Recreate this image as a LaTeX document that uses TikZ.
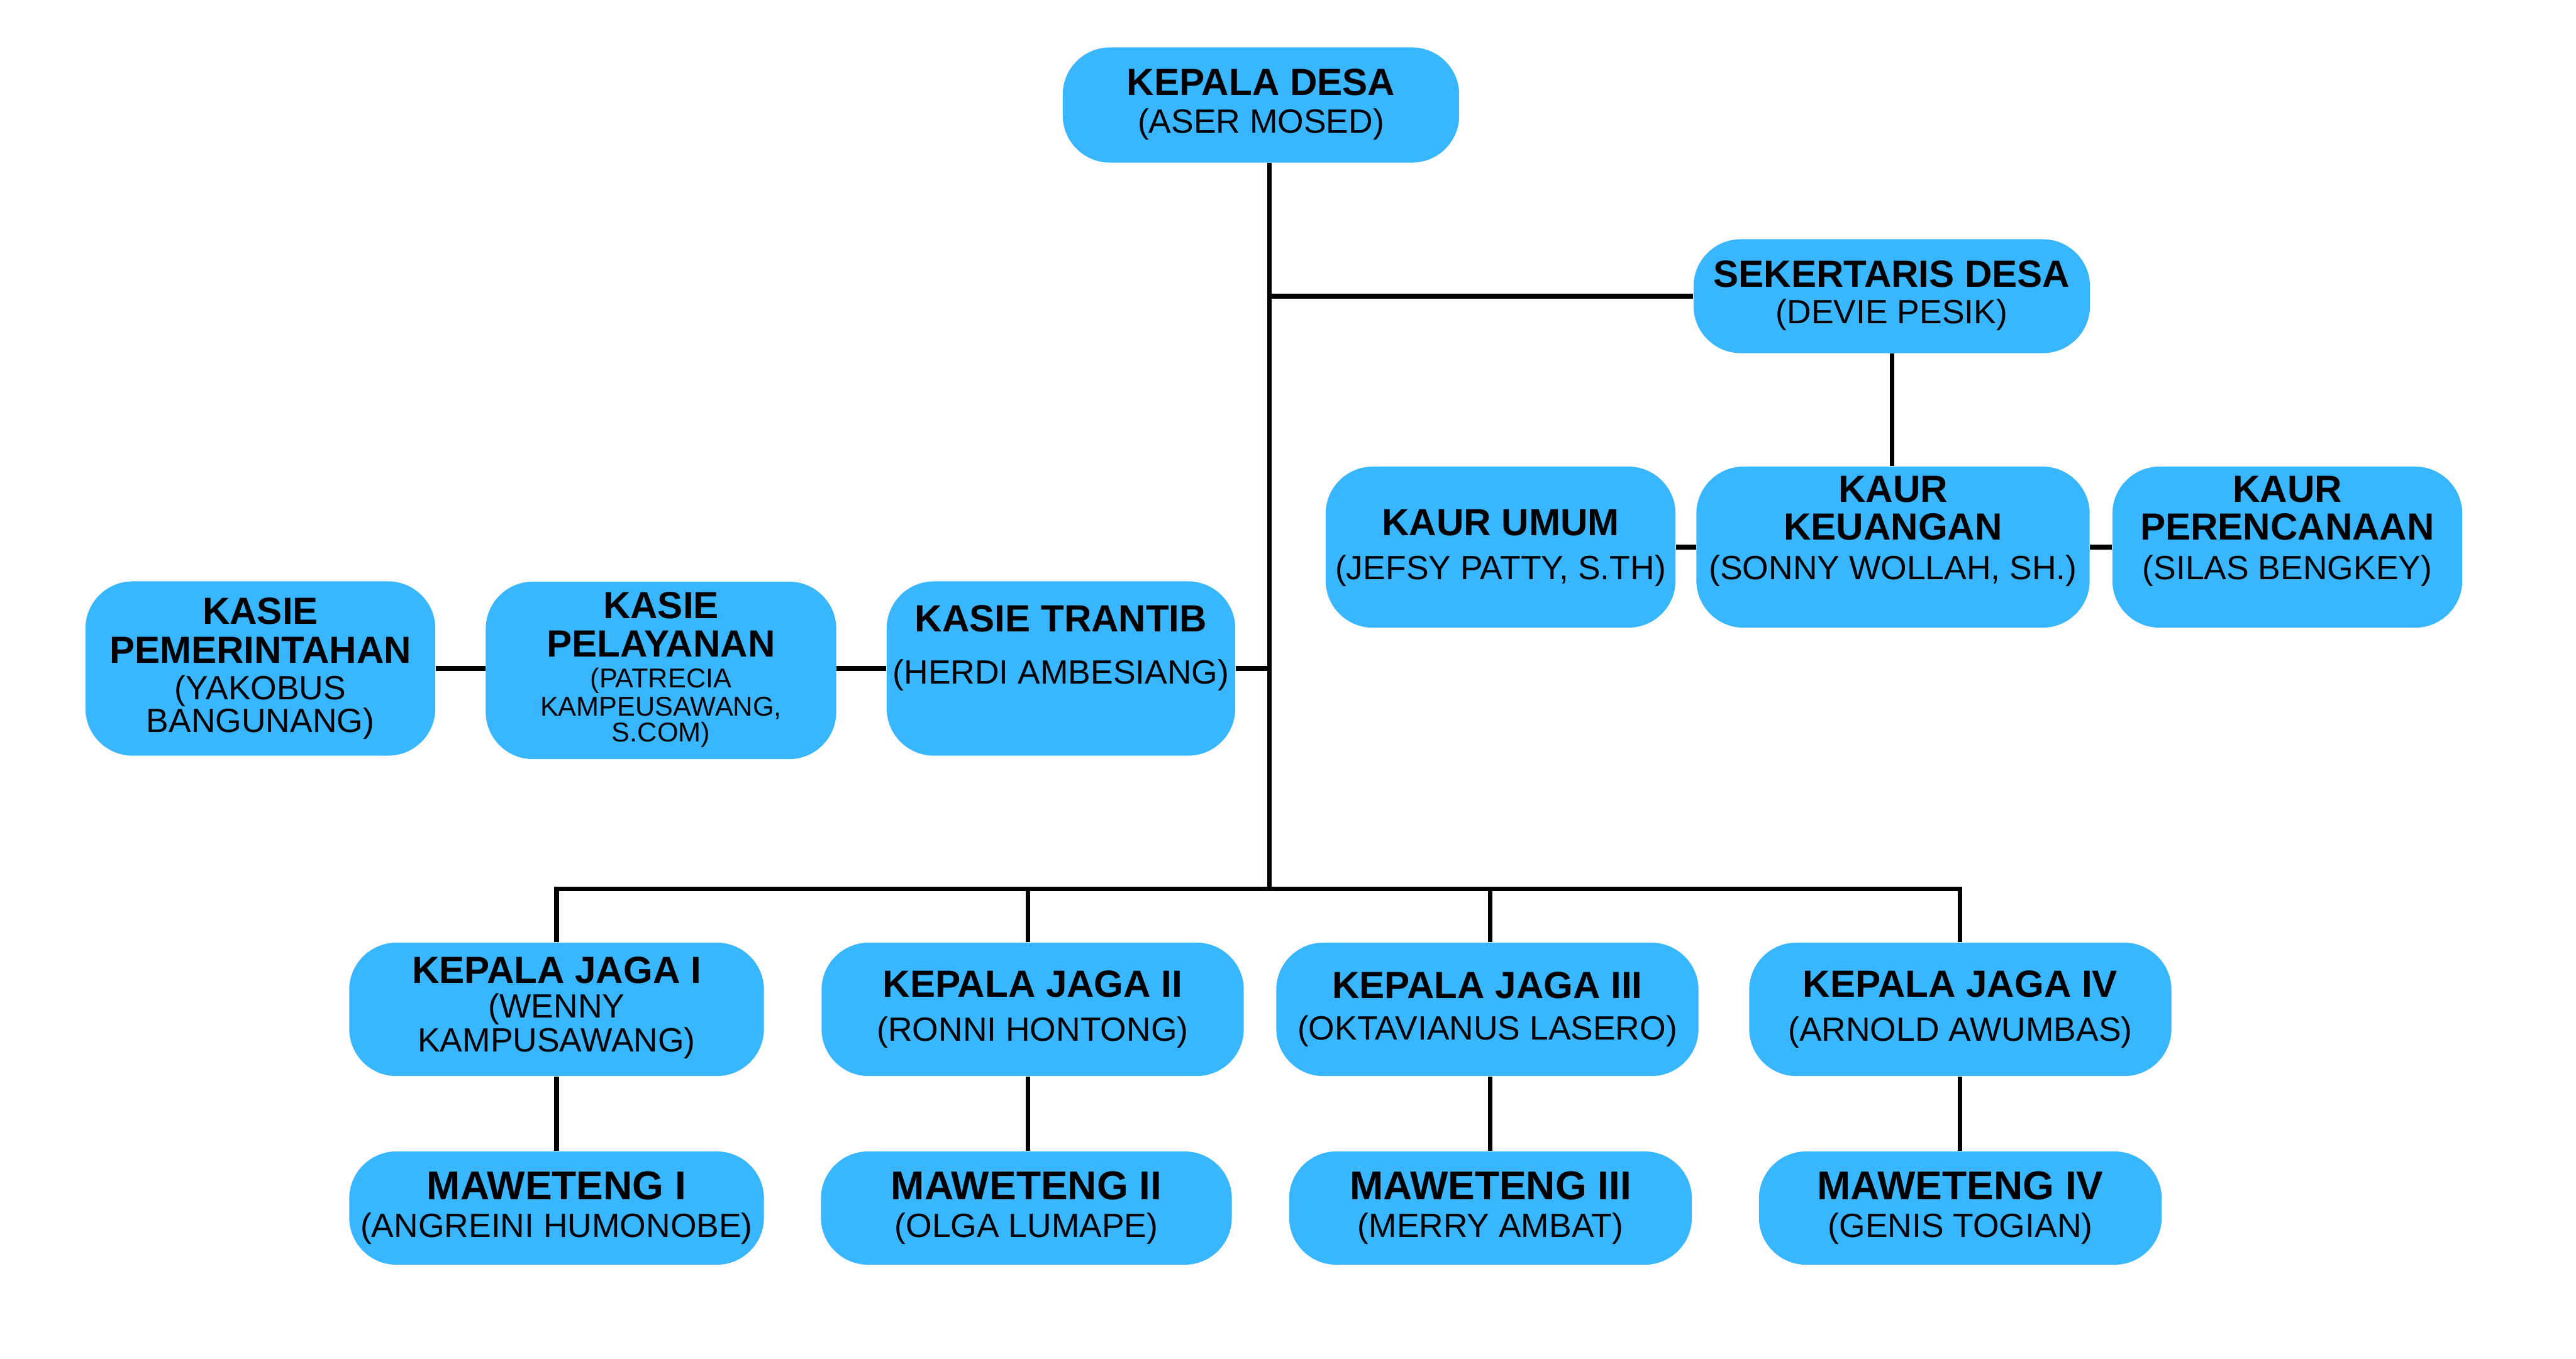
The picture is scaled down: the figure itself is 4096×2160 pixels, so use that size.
\documentclass[tikz,border=0pt]{standalone}
\usepackage{fontspec}
\setmainfont{Liberation Sans}
\definecolor{boxblue}{RGB}{56,182,255}
\newcommand\hd[1]{{\fontsize{17.1}{16}\selectfont\bfseries #1}}
\newcommand\hdl[1]{{\fontsize{18.2}{16}\selectfont\bfseries #1}}
\newcommand\smallname[1]{{\fontsize{12.3}{12}\selectfont #1}}
\tikzset{
  box/.style={fill=boxblue, draw=none, rounded corners=0.75cm, inner sep=0pt},
  txt/.style={align=center, inner sep=0pt, font=\fontsize{15.2}{16}\selectfont},
  wire/.style={line width=2pt, draw=black}
}
\begin{document}
\begin{tikzpicture}[x=0.01cm,y=-0.01cm]
\useasboundingbox (0,0) rectangle (4096,2160);
\fill[white] (0,0) rectangle (4096,2160);

% boxes
\node[box, minimum width=6.30cm, minimum height=1.83cm] (desa) at (2005,167) {};
\node[box, minimum width=6.30cm, minimum height=1.81cm] (sekdes) at (3008,471) {};
\node[box, minimum width=5.56cm, minimum height=2.56cm] (kaurumum) at (2386,870) {};
\node[box, minimum width=6.25cm, minimum height=2.56cm] (kaurkeu) at (3010,870) {};
\node[box, minimum width=5.56cm, minimum height=2.56cm] (kaurper) at (3637,870) {};
\node[box, minimum width=5.56cm, minimum height=2.77cm] (pemerintahan) at (414,1063) {};
\node[box, minimum width=5.57cm, minimum height=2.82cm] (pelayanan) at (1051,1066) {};
\node[box, minimum width=5.54cm, minimum height=2.77cm] (trantib) at (1687,1063) {};
\node[box, minimum width=6.59cm, minimum height=2.12cm] (jaga1) at (885,1605) {};
\node[box, minimum width=6.71cm, minimum height=2.12cm] (jaga2) at (1642,1605) {};
\node[box, minimum width=6.71cm, minimum height=2.12cm] (jaga3) at (2365,1605) {};
\node[box, minimum width=6.71cm, minimum height=2.12cm] (jaga4) at (3117,1605) {};
\node[box, minimum width=6.59cm, minimum height=1.80cm] (maw1) at (885,1921) {};
\node[box, minimum width=6.53cm, minimum height=1.80cm] (maw2) at (1632,1921) {};
\node[box, minimum width=6.40cm, minimum height=1.80cm] (maw3) at (2370,1921) {};
\node[box, minimum width=6.40cm, minimum height=1.80cm] (maw4) at (3117,1921) {};

% texts
\node[txt] (desa-t) at (2005,166) {\hd{KEPALA DESA}\\[1.1pt](ASER MOSED)};
\node[txt] (sekdes-t) at (3008,470) {\hd{SEKERTARIS DESA}\\[0.5pt](DEVIE PESIK)};
\node[txt] (kaurumum-t) at (2386,871) {\hd{KAUR UMUM}\\[3.9pt](JEFSY PATTY, S.TH)};
\node[txt] (kaurkeu-t) at (3010,845) {\hd{KAUR}\\[1.1pt]\hd{KEUANGAN}\\[1.9pt](SONNY WOLLAH, SH.)};
\node[txt] (kaurper-t) at (3637,845) {\hd{KAUR}\\[1.1pt]\hd{PERENCANAAN}\\[1.9pt](SILAS BENGKEY)};
\node[txt] (pemerintahan-t) at (414,1063) {\hd{KASIE}\\[1.6pt]\hd{PEMERINTAHAN}\\[0.5pt](YAKOBUS\\[-1.2pt]BANGUNANG)};
\node[txt] (pelayanan-t) at (1051,1065) {\hd{KASIE}\\[1.4pt]\hd{PELAYANAN}\\[-2.1pt]\smallname{(PATRECIA}\\[-3.2pt]\smallname{KAMPEUSAWANG,}\\[-4.3pt]\smallname{S.COM)}};
\node[txt] (trantib-t) at (1687,1031) {\hd{KASIE TRANTIB}\\[7.6pt](HERDI AMBESIANG)};
\node[txt] (jaga1-t) at (885,1603) {\hd{KEPALA JAGA I}\\[-0.4pt](WENNY\\[-0.6pt]KAMPUSAWANG)};
\node[txt] (jaga2-t) at (1642,1605) {\hd{KEPALA JAGA II}\\[3.9pt](RONNI HONTONG)};
\node[txt] (jaga3-t) at (2365,1605) {\hd{KEPALA JAGA III}\\[2.8pt](OKTAVIANUS LASERO)};
\node[txt] (jaga4-t) at (3117,1605) {\hd{KEPALA JAGA IV}\\[3.9pt](ARNOLD AWUMBAS)};
\node[txt] (maw1-t) at (885,1921) {\hdl{MAWETENG I}\\[1.1pt](ANGREINI HUMONOBE)};
\node[txt] (maw2-t) at (1632,1921) {\hdl{MAWETENG II}\\[1.1pt](OLGA LUMAPE)};
\node[txt] (maw3-t) at (2370,1921) {\hdl{MAWETENG III}\\[1.1pt](MERRY AMBAT)};
\node[txt] (maw4-t) at (3117,1921) {\hdl{MAWETENG IV}\\[1.1pt](GENIS TOGIAN)};

% junction coordinates
\coordinate (sekj) at (2018,471);
\coordinate (kasj) at (2018,1063);
\coordinate (busc) at (2018,1413);
\coordinate (b1) at (885,1413);
\coordinate (b2) at (1634,1413);
\coordinate (b3) at (2369,1413);
\coordinate (b4) at (3116,1413);

% connectors
\draw[wire] (desa.south -| busc) -- (busc);
\draw[wire] (sekj) -- (sekdes.west);
\draw[wire] (sekdes.south) -- (sekdes.south |- kaurkeu.north);
\draw[wire] (kaurumum.east) -- (kaurkeu.west);
\draw[wire] (kaurkeu.east) -- (kaurper.west);
\draw[wire] (pemerintahan.east) -- (pelayanan.west |- pemerintahan.east);
\draw[wire] (pelayanan.east |- trantib.west) -- (trantib.west);
\draw[wire] (trantib.east) -- (kasj);
\draw[wire] (b1 |- jaga1.north) -- (b1) -- (b4) -- (b4 |- jaga4.north);
\draw[wire] (b2) -- (b2 |- jaga2.north);
\draw[wire] (b3) -- (b3 |- jaga3.north);
\draw[wire] (b1 |- jaga1.south) -- (b1 |- maw1.north);
\draw[wire] (b2 |- jaga2.south) -- (b2 |- maw2.north);
\draw[wire] (b3 |- jaga3.south) -- (b3 |- maw3.north);
\draw[wire] (b4 |- jaga4.south) -- (b4 |- maw4.north);
\end{tikzpicture}
\end{document}
